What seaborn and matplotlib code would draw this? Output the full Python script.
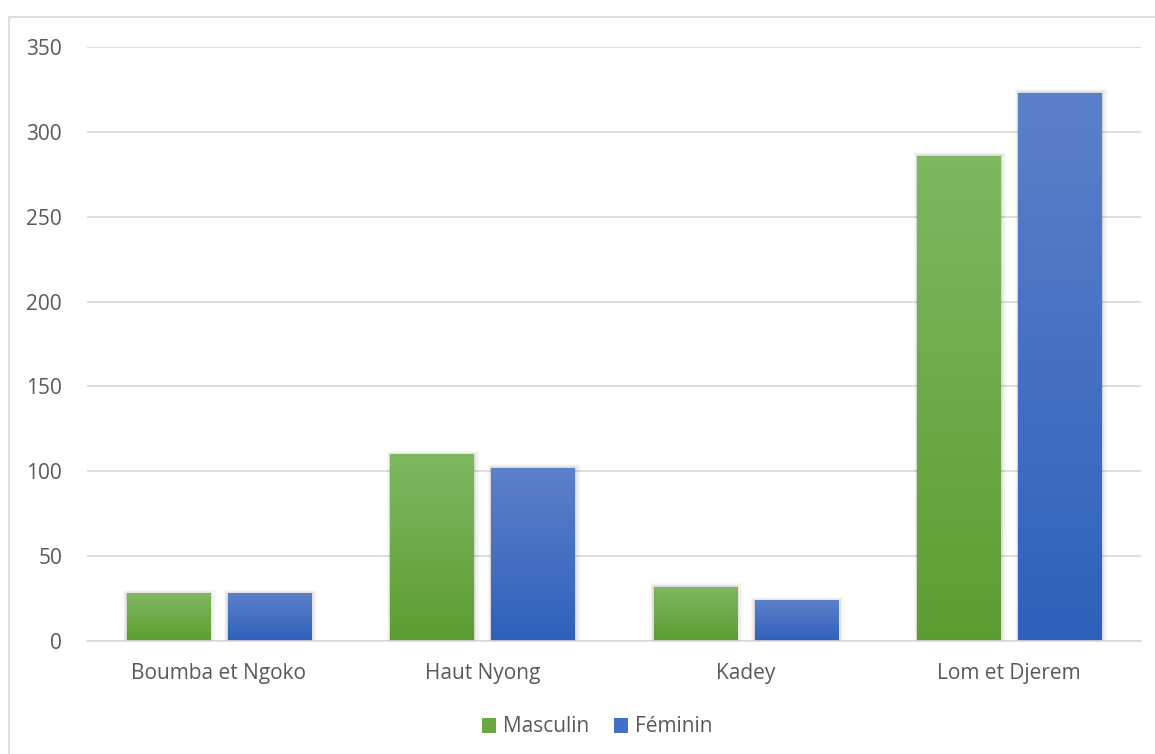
import numpy as np
import pandas as pd
import matplotlib
matplotlib.use("Agg")
import matplotlib.pyplot as plt
import seaborn as sns
from matplotlib.patches import Patch, FancyBboxPatch
from matplotlib.lines import Line2D
from matplotlib.colors import to_rgb

# ---- data ----
departements = ["Boumba et Ngoko", "Haut Nyong", "Kadey", "Lom et Djerem"]
masculin = [28, 110, 32, 286]
feminin = [28, 102, 24, 323]
series = ["Masculin", "Féminin"]
yticks = [0, 50, 100, 150, 200, 250, 300, 350]

df = pd.DataFrame({
    "Département": departements * 2,
    "Sexe": ["Masculin"] * len(departements) + ["Féminin"] * len(departements),
    "Valeur": masculin + feminin,
})

green_top, green_bot = "#80b762", "#5c9d31"
blue_top, blue_bot = "#5d80ca", "#2e61bb"
palette = {"Masculin": "#70ad47", "Féminin": "#4472c4"}
grads = {"Masculin": (green_top, green_bot), "Féminin": (blue_top, blue_bot)}

sns.set_theme(style="white")
plt.rcParams["font.family"] = ["Open Sans", "DejaVu Sans"]
text_color = "#595959"
fs = 15

fig = plt.figure(figsize=(11.55, 7.54), dpi=100)
ax = fig.add_axes([87 / 1155, 1 - 641 / 754, (1141 - 87) / 1155, (641 - 47) / 754])

sns.barplot(data=df, x="Département", y="Valeur", hue="Sexe", order=departements,
            hue_order=series, palette=palette, width=0.767, gap=0.178,
            saturation=1, ax=ax, legend=False, zorder=3, linewidth=0,
            edgecolor="none")

ax.set_ylim(0, 350)
ax.set_xlim(-0.5, len(departements) - 0.5)

# gradient fill + soft shadow
bars = [p for p in ax.patches]
px_x = 1 / 263.5
px_y = 350 / 594
for i, p in enumerate(bars):
    s = series[i // len(departements)]
    x0, y0 = p.get_x(), p.get_y()
    w, h = p.get_width(), p.get_height()
    for k, a in zip([7, 5, 3, 1.5], [0.025, 0.035, 0.045, 0.06]):
        sh = FancyBboxPatch((x0 - k * px_x * 0.5, y0), w + k * px_x * 1.4, h + k * px_y * 0.5,
                            boxstyle="square,pad=0", facecolor="black", edgecolor="none",
                            alpha=a, zorder=2)
        ax.add_patch(sh)
    top, bot = np.array(to_rgb(grads[s][0])), np.array(to_rgb(grads[s][1]))
    t = np.linspace(0, 1, 256)[:, None]
    grad = (top[None, :] * (1 - t) + bot[None, :] * t)[:, None, :]
    im = ax.imshow(grad, extent=[x0, x0 + w, y0, y0 + h], aspect="auto",
                   origin="upper", zorder=4, interpolation="bilinear")
    im.set_clip_path(p)

ax.set_ylim(0, 350)
ax.set_xlim(-0.5, len(departements) - 0.5)
ax.set_aspect("auto")

ax.set_yticks(yticks)
ax.set_yticklabels([str(v) for v in yticks])
ax.yaxis.grid(True, color="#d9d9d9", linewidth=1.2, zorder=0)
ax.set_axisbelow(True)
ax.tick_params(axis="y", length=0, pad=18, labelsize=fs, labelcolor=text_color)
ax.tick_params(axis="x", length=0, pad=16, labelsize=fs, labelcolor=text_color)
ax.set_xlabel("")
ax.set_ylabel("")
for side in ["left", "right", "top"]:
    ax.spines[side].set_visible(False)
ax.spines["bottom"].set_color("#d9d9d9")
ax.spines["bottom"].set_linewidth(1.2)
ax.spines["bottom"].set_zorder(5)

handles = [Patch(facecolor="#6aa93f", edgecolor="none", label="Masculin"),
           Patch(facecolor="#4170c4", edgecolor="none", label="Féminin")]
fig.legend(handles=handles, loc="center", bbox_to_anchor=(597 / 1155, 1 - 727 / 754),
           ncol=2, frameon=False, fontsize=fs, labelcolor=text_color,
           handlelength=0.7, handleheight=0.7, handletextpad=0.3, columnspacing=1.2)

# chart frame (left and top edges)
fig.add_artist(Line2D([9 / 1155, 9 / 1155], [0, 1 - 17 / 754], transform=fig.transFigure,
                      color="#d9d9d9", linewidth=1.2))
fig.add_artist(Line2D([9 / 1155, 1], [1 - 17 / 754, 1 - 17 / 754], transform=fig.transFigure,
                      color="#d9d9d9", linewidth=1.2))

fig.savefig("out.png", dpi=100, facecolor="white")
